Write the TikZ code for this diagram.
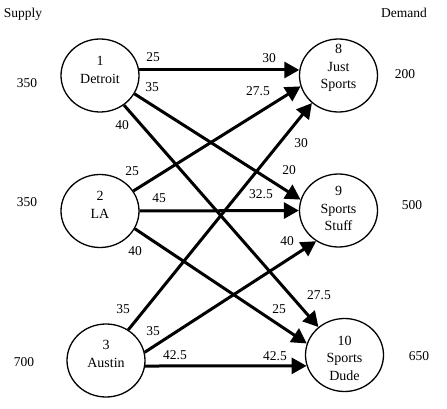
\documentclass[tikz,border=0pt]{standalone}
\usepackage{fontspec}
\setmainfont{Liberation Serif}
\usetikzlibrary{arrows.meta,shapes.geometric}
\begin{document}
\begin{tikzpicture}[x=1pt,y=-1pt,
  site/.style={draw, ellipse, line width=1.3pt, minimum width=78pt, minimum height=73pt, inner sep=0pt},
  txt/.style={font=\fontsize{14}{17.5}\selectfont, align=center, inner sep=0pt},
  lbl/.style={font=\fontsize{13.5}{16}\selectfont, inner sep=0pt},
  flow/.style={line width=3pt, -{Triangle[length=15pt,width=16pt]}}]
\useasboundingbox (0,0) rectangle (447,409);
% sites
\node[site] (n1) at (100,75.5) {};
\node[site] (n2) at (100,211) {};
\node[site] (n3) at (106,360.5) {};
\node[site] (n8) at (338.5,75.5) {};
\node[site] (n9) at (338.5,210.5) {};
\node[site] (n10) at (344.5,355) {};
% site texts
\node[txt] (t1) at (100,70) {1\\Detroit};
\node[txt] (t2) at (100,205) {2\\LA};
\node[txt] (t3) at (106,354) {3\\Austin};
\node[txt] (t8) at (338.5,68) {8\\Just\\Sports};
\node[txt] (t9) at (338.5,208.5) {9\\Sports\\Stuff};
\node[txt] (t10) at (344.5,358) {10\\Sports\\Dude};
% headings and supply/demand
\node[lbl] (sup) at (23,14) {Supply};
\node[lbl] (dem) at (404,13) {Demand};
\node[lbl] (s1) at (27,83) {350};
\node[lbl] (s2) at (27,202) {350};
\node[lbl] (s3) at (24,362) {700};
\node[lbl] (d8) at (405,74) {200};
\node[lbl] (d9) at (412,205) {500};
\node[lbl] (d10) at (419,356) {650};
% flows
\draw[flow] (n1.8) -- (n8.172);
\draw[flow] (n1.-28) -- (n9.164);
\draw[flow] (n1.-51) -- (n10.133);
\draw[flow] (n2.31) -- (n8.-164);
\draw[flow] (n2.0) -- (n9.180);
\draw[flow] (n2.-27) -- (n10.163);
\draw[flow] (n3.54) -- (n8.226);
\draw[flow] (n3.12) -- (n9.234);
\draw[flow] (n3.-8) -- (n10.196);
% cost labels
\node[lbl] (c1a) at (153,57) {25};
\node[lbl] (c1b) at (152,87) {35};
\node[lbl] (c1c) at (122,125) {40};
\node[lbl] (c2a) at (132,171) {25};
\node[lbl] (c2b) at (159,198) {45};
\node[lbl] (c2c) at (135,251) {40};
\node[lbl] (c3a) at (123,309) {35};
\node[lbl] (c3b) at (153,331) {35};
\node[lbl] (c3c) at (175,355) {42.5};
\node[lbl] (e8a) at (269,58) {30};
\node[lbl] (e8b) at (258,91) {27.5};
\node[lbl] (e8c) at (301,143) {30};
\node[lbl] (e9a) at (289,170) {20};
\node[lbl] (e9b) at (261,194) {32.5};
\node[lbl] (e9c) at (287,241) {40};
\node[lbl] (e10a) at (319,295) {27.5};
\node[lbl] (e10b) at (279,309) {25};
\node[lbl] (e10c) at (275,356) {42.5};
\end{tikzpicture}
\end{document}
